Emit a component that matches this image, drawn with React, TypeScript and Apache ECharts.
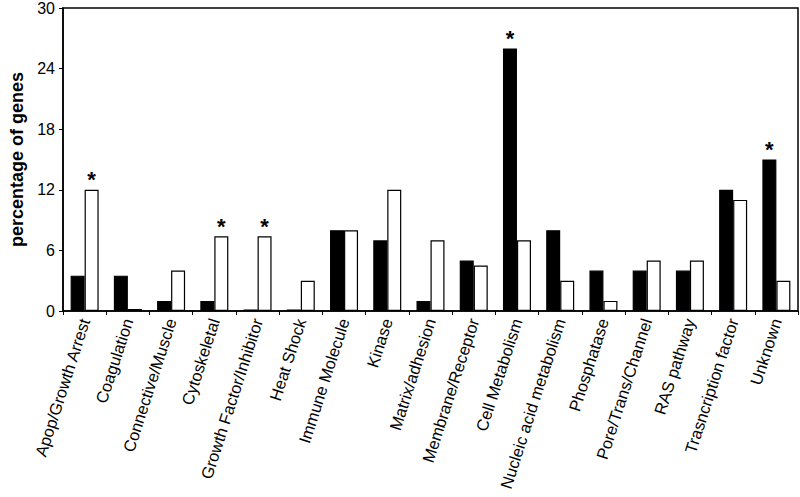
import React, { useEffect, useRef } from "react";
import * as echarts from "echarts";

const categories = [
  "Apop/Growth Arrest",
  "Coagulation",
  "Connective/Muscle",
  "Cytoskeletal",
  "Growth Factor/Inhibitor",
  "Heat Shock",
  "Immune Molecule",
  "Kinase",
  "Matrix/adhesion",
  "Membrane/Receptor",
  "Cell Metabolism",
  "Nucleic acid metabolism",
  "Phosphatase",
  "Pore/Trans/Channel",
  "RAS pathway",
  "Trasncription factor",
  "Unknown",
];
const blackValues = [3.5, 3.5, 1, 1, 0.15, 0.15, 8, 7, 1, 5, 26, 8, 4, 4, 4, 12, 15];
const whiteValues = [12, 0.2, 4, 7.4, 7.4, 3, 8, 12, 7, 4.5, 7, 3, 1, 5, 5, 11, 3];
const blackStar = [false, false, false, false, false, false, false, false, false, false, true, false, false, false, false, false, true];
const whiteStar = [true, false, false, true, true, false, false, false, false, false, false, false, false, false, false, false, false];
const yTicks = [0, 6, 12, 18, 24, 30];

const FONT = "'Liberation Sans', Arial, sans-serif";

function withStars(values: number[], stars: boolean[]) {
  return values.map((v, i) =>
    stars[i]
      ? {
          value: v,
          label: {
            show: true,
            position: "top",
            formatter: "*",
            fontSize: 22,
            fontWeight: "bold",
            color: "#000",
            fontFamily: FONT,
            distance: -1,
          },
        }
      : v
  );
}

export default function App() {
  const ref = useRef<HTMLDivElement>(null);
  useEffect(() => {
    if (!ref.current) return;
    const chart = echarts.init(ref.current, null, { renderer: "svg" });
    chart.setOption({
      animation: false,
      backgroundColor: "#fff",
      grid: {
        left: 57,
        right: 2,
        top: 8,
        bottom: 186,
        show: true,
        borderColor: "#000",
        borderWidth: 1.5,
        backgroundColor: "transparent",
      },
      xAxis: {
        type: "category",
        data: categories,
        axisLine: { lineStyle: { color: "#000", width: 1.5 } },
        axisTick: { show: true, length: 4, lineStyle: { color: "#000" } },
        axisLabel: {
          rotate: 72,
          color: "#000",
          fontSize: 16.5,
          fontFamily: FONT,
          interval: 0,
          margin: 8,
        },
      },
      yAxis: {
        type: "value",
        min: 0,
        max: 30,
        interval: 6,
        name: "percentage of genes",
        nameLocation: "middle",
        nameGap: 37,
        nameTextStyle: { color: "#000", fontSize: 18, fontWeight: "bold", fontFamily: FONT },
        axisLine: { show: true, lineStyle: { color: "#000", width: 1.5 } },
        axisTick: { show: true, length: 4, lineStyle: { color: "#000" } },
        splitLine: { show: false },
        axisLabel: {
          color: "#000",
          fontSize: 16,
          fontFamily: FONT,
          margin: 8,
          formatter: (v: number) => (yTicks.includes(v) ? String(v) : ""),
        },
      },
      series: [
        {
          type: "bar",
          data: withStars(blackValues, blackStar),
          barWidth: 14,
          barGap: "0%",
          itemStyle: { color: "#000", borderColor: "#000", borderWidth: 1.2 },
        },
        {
          type: "bar",
          data: withStars(whiteValues, whiteStar),
          barWidth: 14,
          barGap: "0%",
          itemStyle: { color: "#fff", borderColor: "#000", borderWidth: 1.2 },
        },
      ],
    });
    return () => chart.dispose();
  }, []);
  return (
    <div
      ref={ref}
      style={{ position: "fixed", left: 0, top: 0, width: 800, height: 497, background: "#fff" }}
    />
  );
}
